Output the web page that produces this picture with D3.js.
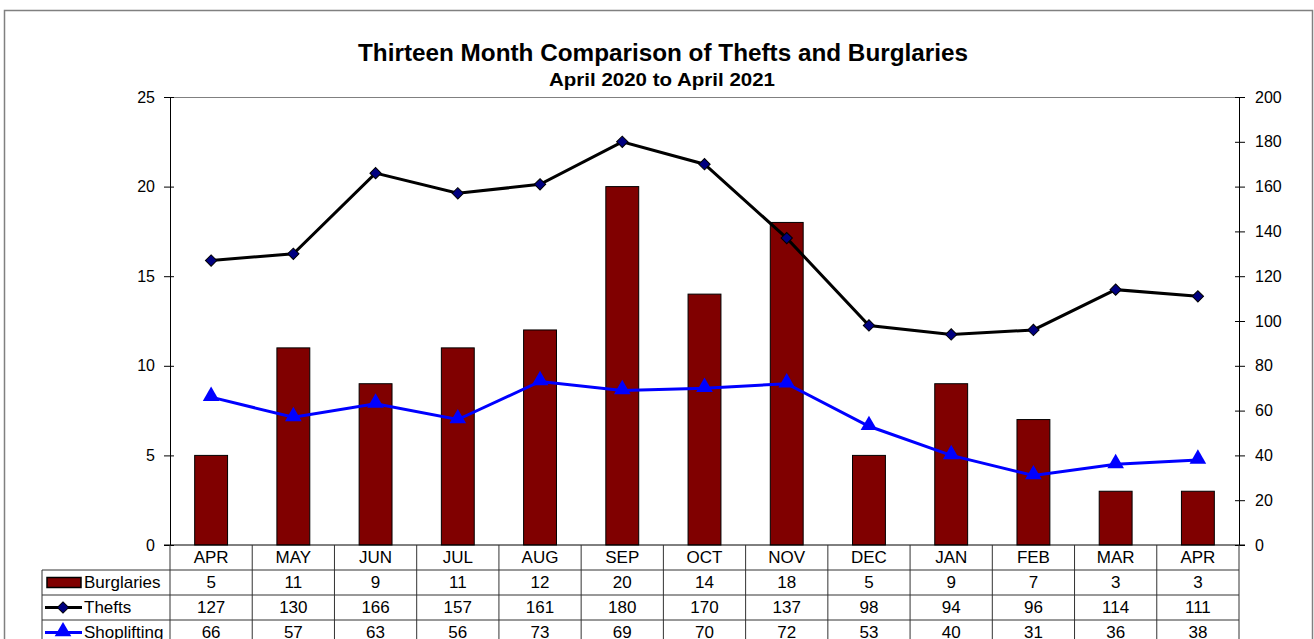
<!DOCTYPE html>
<html>
<head>
<meta charset="utf-8">
<script src="https://cdn.jsdelivr.net/npm/d3@7"></script>
<style>
  body { margin: 0; background: #fff; }
  svg { font-family: "Liberation Sans", Arial, sans-serif; }
  .axis path, .axis line { stroke: #000; }
  .axis text { font-size: 16px; fill: #000; }
</style>
</head>
<body>
<svg width="1314" height="639"></svg>
<script>
var months = ["APR", "MAY", "JUN", "JUL", "AUG", "SEP", "OCT", "NOV", "DEC", "JAN", "FEB", "MAR", "APR"];
var burglaries = [5, 11, 9, 11, 12, 20, 14, 18, 5, 9, 7, 3, 3];
var thefts = [127, 130, 166, 157, 161, 180, 170, 137, 98, 94, 96, 114, 111];
var shoplifting = [66, 57, 63, 56, 73, 69, 70, 72, 53, 40, 31, 36, 38];
var leftTicks = [0, 5, 10, 15, 20, 25];
var rightTicks = [0, 20, 40, 60, 80, 100, 120, 140, 160, 180, 200];

var svg = d3.select("svg");
var plot = { left: 170, right: 1239, top: 97, bottom: 545 };
var rowH = 25;

// outer frame
svg.append("rect")
    .attr("x", 4.5).attr("y", 10.5)
    .attr("width", 1308).attr("height", 660)
    .attr("fill", "none")
    .attr("stroke", "#808080")
    .attr("stroke-width", 1.5);

svg.append("text")
    .attr("x", 663).attr("y", 61)
    .attr("text-anchor", "middle")
    .attr("textLength", 610).attr("lengthAdjust", "spacingAndGlyphs")
    .style("font-size", "23px").style("font-weight", "bold")
    .text("Thirteen Month Comparison of Thefts and Burglaries");
svg.append("text")
    .attr("x", 662).attr("y", 86)
    .attr("text-anchor", "middle")
    .attr("textLength", 226).attr("lengthAdjust", "spacingAndGlyphs")
    .style("font-size", "18px").style("font-weight", "bold")
    .text("April 2020 to April 2021");

var x = d3.scaleBand()
    .domain(d3.range(months.length))
    .range([plot.left, plot.right]);
var yL = d3.scaleLinear().domain([0, 25]).range([plot.bottom, plot.top]);
var yR = d3.scaleLinear().domain([0, 200]).range([plot.bottom, plot.top]);

// top border of plot area
svg.append("line")
    .attr("x1", plot.left).attr("x2", plot.right)
    .attr("y1", plot.top + 0.5).attr("y2", plot.top + 0.5)
    .attr("stroke", "#808080");

// bars
var bw = x.bandwidth() * 0.4;
svg.append("g").selectAll("rect")
    .data(burglaries)
    .enter().append("rect")
    .attr("x", function(d, i) { return x(i) + x.bandwidth() / 2 - bw / 2; })
    .attr("y", function(d) { return yL(d); })
    .attr("width", bw)
    .attr("height", function(d) { return yL(0) - yL(d); })
    .attr("fill", "#800000")
    .attr("stroke", "#000")
    .attr("stroke-width", 1);

// axes
var gl = svg.append("g")
    .attr("class", "axis")
    .attr("transform", "translate(" + plot.left + ",0)")
    .call(d3.axisLeft(yL).tickValues(leftTicks).tickSize(6).tickPadding(9).tickSizeOuter(0));
gl.selectAll(".tick line").attr("x2", -6).attr("x1", 4);

var gr = svg.append("g")
    .attr("class", "axis")
    .attr("transform", "translate(" + plot.right + ",0)")
    .call(d3.axisRight(yR).tickValues(rightTicks).tickSize(6).tickPadding(10).tickSizeOuter(0));
gr.selectAll(".tick line").attr("x1", -4).attr("x2", 6);

var cx = function(d, i) { return x(i) + x.bandwidth() / 2; };

// thefts line
var lineR = d3.line().x(cx).y(function(d) { return yR(d); });
svg.append("path")
    .attr("d", lineR(thefts))
    .attr("fill", "none")
    .attr("stroke", "#000")
    .attr("stroke-width", 3);
var diamond = d3.symbol().type(d3.symbolSquare).size(64);
svg.append("g").selectAll("path")
    .data(thefts)
    .enter().append("path")
    .attr("d", diamond)
    .attr("transform", function(d, i) { return "translate(" + cx(d, i) + "," + yR(d) + ") rotate(45)"; })
    .attr("fill", "#000080")
    .attr("stroke", "#000")
    .attr("stroke-width", 1);

// shoplifting line
svg.append("path")
    .attr("d", lineR(shoplifting))
    .attr("fill", "none")
    .attr("stroke", "#0000ff")
    .attr("stroke-width", 3);
var tri = d3.symbol().type(d3.symbolTriangle).size(120);
svg.append("g").selectAll("path")
    .data(shoplifting)
    .enter().append("path")
    .attr("d", tri)
    .attr("transform", function(d, i) { return "translate(" + cx(d, i) + "," + (yR(d) - 1) + ")"; })
    .attr("fill", "#0000ff");

// x axis line
svg.append("line")
    .attr("x1", plot.left - 6).attr("x2", plot.right + 6)
    .attr("y1", plot.bottom).attr("y2", plot.bottom)
    .attr("stroke", "#000");

// data table
var table = svg.append("g");
var tLeft = 42;
var series = [
    { name: "Burglaries", values: burglaries },
    { name: "Thefts", values: thefts },
    { name: "Shoplifting", values: shoplifting }
];
var gridColor = "#333";

// header month labels
table.selectAll(".mlab")
    .data(months)
    .enter().append("text")
    .attr("x", cx)
    .attr("y", plot.bottom + 18)
    .attr("text-anchor", "middle")
    .style("font-size", "17px")
    .text(function(d) { return d; });

// vertical lines
d3.range(months.length + 1).forEach(function(i) {
    var xx = i < months.length ? x(i) : plot.right;
    table.append("line")
        .attr("x1", xx).attr("x2", xx)
        .attr("y1", plot.bottom).attr("y2", plot.bottom + rowH * 5)
        .attr("stroke", gridColor);
});
table.append("line")
    .attr("x1", tLeft).attr("x2", tLeft)
    .attr("y1", plot.bottom + rowH).attr("y2", plot.bottom + rowH * 5)
    .attr("stroke", gridColor);

// horizontal lines
[1, 2, 3, 4].forEach(function(r) {
    table.append("line")
        .attr("x1", tLeft).attr("x2", plot.right)
        .attr("y1", plot.bottom + rowH * r).attr("y2", plot.bottom + rowH * r)
        .attr("stroke", gridColor);
});

series.forEach(function(s, r) {
    var yTop = plot.bottom + rowH * (r + 1);
    var yMid = yTop + rowH / 2;
    table.append("text")
        .attr("x", 84).attr("y", yTop + 18)
        .style("font-size", "17px")
        .text(s.name);
    table.selectAll(".v" + r)
        .data(s.values)
        .enter().append("text")
        .attr("x", cx)
        .attr("y", yTop + 18)
        .attr("text-anchor", "middle")
        .style("font-size", "17px")
        .text(function(d) { return d; });

    // legend keys
    if (r === 0) {
        table.append("rect")
            .attr("x", 47).attr("y", yMid - 5)
            .attr("width", 34).attr("height", 10)
            .attr("fill", "#800000").attr("stroke", "#000").attr("stroke-width", 1.5);
    } else {
        table.append("line")
            .attr("x1", 45).attr("x2", 82)
            .attr("y1", yMid).attr("y2", yMid)
            .attr("stroke", r === 1 ? "#000" : "#0000ff").attr("stroke-width", 3);
        if (r === 1) {
            table.append("path")
                .attr("d", diamond)
                .attr("transform", "translate(63," + yMid + ") rotate(45)")
                .attr("fill", "#000080").attr("stroke", "#000");
        } else {
            table.append("path")
                .attr("d", tri)
                .attr("transform", "translate(63," + (yMid - 1) + ")")
                .attr("fill", "#0000ff");
        }
    }
});
</script>
</body>
</html>
